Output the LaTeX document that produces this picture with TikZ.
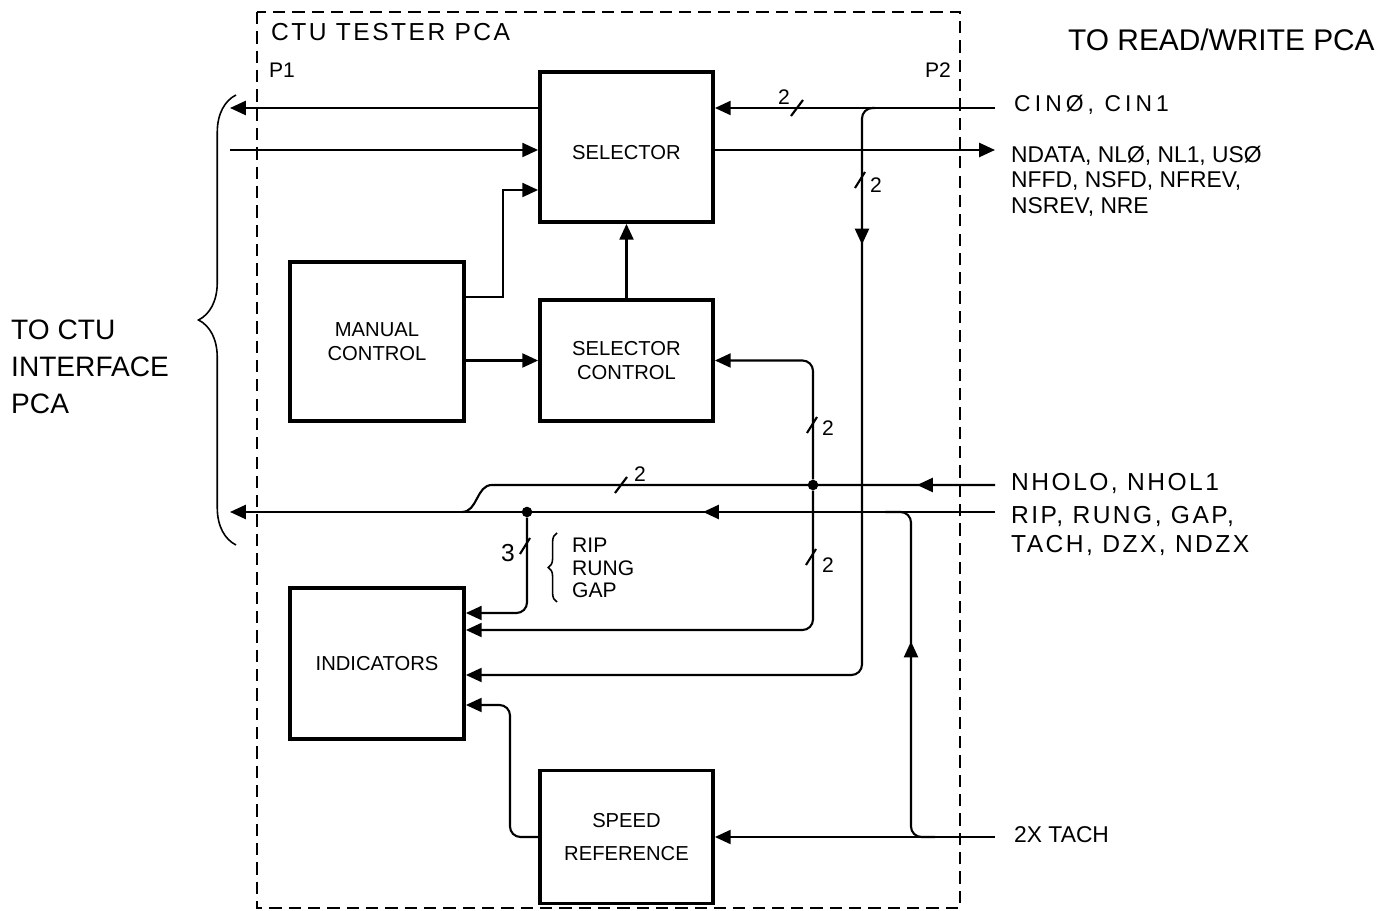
\documentclass[tikz,border=0pt]{standalone}
\usepackage{fontspec}
\setmainfont{Liberation Sans}
\newfontfamily\widefont[LetterSpace=10]{Liberation Sans}
\newfontfamily\widerfont[LetterSpace=18]{Liberation Sans}
\usepackage{tikz}
\usetikzlibrary{positioning, arrows.meta, calc, decorations.pathreplacing, decorations.markings}

\begin{document}
\begin{tikzpicture}[x=0.02cm, y=-0.02cm,
    block/.style={draw, line width=2.2pt, minimum width=3.46cm, align=center,
                  font=\fontsize{11.5}{14}\selectfont, inner sep=0pt},
    sig/.style={-{Triangle[length=9pt,width=8pt]}, line width=1.2pt},
    wire/.style={line width=1.2pt},
    midarrow/.style={postaction=decorate, decoration={markings,
                  mark=at position #1 with {\arrow{Triangle[length=9pt,width=8pt]}}}},
    tick/.style={line width=1.2pt},
    frame/.style={line width=1.1pt, dash pattern=on 7pt off 4pt},
    lbl/.style={anchor=west, align=left, font=\fontsize{13}{14.5}\selectfont},
    bw/.style={font=\fontsize{12}{14}\selectfont},
    dot/.style={circle, fill, inner sep=0pt, minimum size=6pt}
]
\useasboundingbox (0,0) rectangle (1390,911);

% board outline
\draw[frame] (257,12) rectangle (960,908);
\node[lbl, font=\widefont\fontsize{14}{16}\selectfont] (title) at (265,32) {CTU TESTER PCA};
\node[bw] (p1) at (282,70) {P1};
\node[bw] (p2) at (938,70) {P2};

% blocks
\node[block, minimum height=3cm, text height=14pt] (sel) at (626.5,147) {SELECTOR};
\node[block, minimum height=3.18cm, minimum width=3.48cm] (man) at (377,341.5) {MANUAL\\CONTROL};
\node[block, minimum height=2.42cm] (selc) at (626.5,360.5) {SELECTOR\\CONTROL};
\node[block, minimum height=3.02cm, minimum width=3.48cm] (ind) at (377,663.5) {INDICATORS};
\node[block, minimum height=2.66cm] (spd) at (626.5,837) {SPEED\\[5pt]REFERENCE};

% ends at the connectors
\coordinate (cin)  at (995,108);
\coordinate (nd)   at (995,150);
\coordinate (nhol) at (995,485);
\coordinate (rip)  at (995,512);
\coordinate (tach) at (995,837);
\coordinate (p1a)  at (230,108);
\coordinate (p1b)  at (230,150);
\coordinate (p1c)  at (230,512);
\node[dot] (jn) at (813,485) {};
\node[dot] (jr) at (527,512) {};

% selector
\draw[sig] (sel.west |- p1a) -- (p1a);
\draw[sig] (p1b) -- (p1b -| sel.west);
\draw[sig] (sel.east |- nd) -- (nd);
\draw[sig] (cin) -- (cin -| sel.east);
\draw[sig] (man.east |- 0,297) -- (503,297) |- (sel.west |- 0,190);
\draw[sig] (man.east |- selc.west) -- (selc.west);
\draw[sig] (selc.north) -- (sel.south);
\draw[sig, rounded corners=6pt, midarrow=2.9cm] (875,108) -| (862,675) -- (ind.east |- 0,675);

% hold lines
\draw[wire, midarrow=1.56cm] (nhol) -- (492,485) to[out=180, in=0] (462,512);
\draw[sig, rounded corners=6pt] (jn) |- (selc.east);
\draw[sig, rounded corners=6pt] (jn) |- (ind.east |- 0,630);

% rip, rung, gap
\draw[sig, midarrow=5.84cm] (rip) -- (p1c);
\draw[sig, rounded corners=6pt] (jr) |- (ind.east |- 0,613);

% tach
\draw[sig] (tach) -- (tach -| spd.east);
\draw[wire, rounded corners=6pt, midarrow=4.3cm] (935,837) -| (911,512) -- (885,512);
\draw[sig, rounded corners=6pt] (spd.west) -| (510,705) -- (ind.east |- 0,705);

% bus widths
\draw[tick] (797,108) ++(-6,8) -- ++(12,-16);
\node[bw] (b1) at (784,97) {2};
\draw[tick] (860,180) ++(-5,8) -- ++(10,-16);
\node[bw] (b2) at (876,185) {2};
\draw[tick] (621,485) ++(-6,8) -- ++(12,-16);
\node[bw] (b3) at (640,474) {2};
\draw[tick] (812,425) ++(-5,8) -- ++(10,-16);
\node[bw] (b4) at (828,428) {2};
\draw[tick] (811,557) ++(-5,8) -- ++(10,-16);
\node[bw] (b5) at (828,565) {2};
\draw[tick] (525,546) ++(-5,8) -- ++(10,-16);
\node[bw, font=\fontsize{14}{16}\selectfont] (b6) at (508,553) {3};
\draw[line width=0.9pt, decorate, decoration={brace, amplitude=5pt}] (557,602) -- (557,533);
\node[lbl, font=\fontsize{12}{13}\selectfont] (rrg) at (566,568) {RIP\\RUNG\\GAP};

% outside
\draw[line width=0.9pt, decorate, decoration={brace, amplitude=0.75cm}] (236,545) -- (236,95);
\node[lbl, font=\fontsize{16}{21}\selectfont] (ctu) at (5,367) {TO CTU\\INTERFACE\\PCA};
\node[lbl, font=\fontsize{17}{19}\selectfont] (rw) at (1062,40) {TO READ/WRITE PCA};
\node[lbl, font=\widerfont\fontsize{13}{15}\selectfont] (cinl) at (1008,105) {CINØ, CIN1};
\node[lbl] (ndl) at (1005,181) {NDATA, NLØ, NL1, USØ\\NFFD, NSFD, NFREV,\\NSREV, NRE};
\node[lbl, font=\widefont\fontsize{14}{16}\selectfont] (nhl) at (1005,483) {NHOLO, NHOL1};
\node[lbl, font=\widefont\fontsize{14}{16}\selectfont] (ripl) at (1005,531) {RIP, RUNG, GAP,\\TACH, DZX, NDZX};
\node[lbl] (tachl) at (1008,835) {2X TACH};
\end{tikzpicture}
\end{document}
